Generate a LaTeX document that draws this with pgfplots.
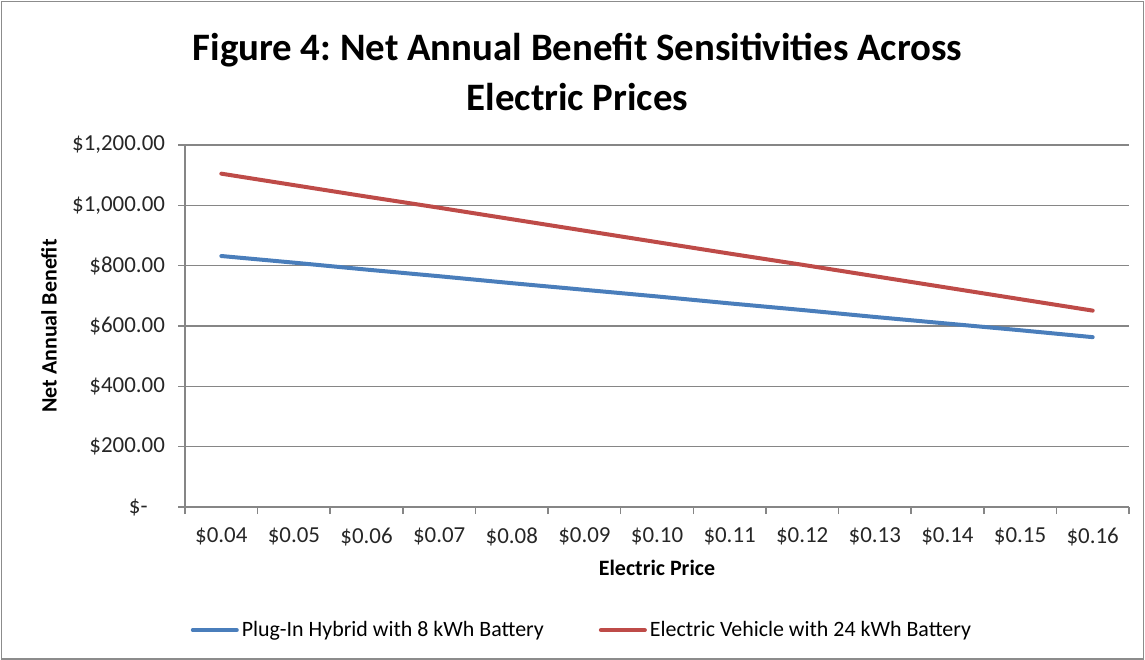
\documentclass[border=0pt]{standalone}
\usepackage{fontspec}
\setmainfont{Carlito}
\usepackage{pgfplots}
\pgfplotsset{compat=1.18}

\definecolor{phevblue}{HTML}{4A7EBB}
\definecolor{evred}{HTML}{BE4B48}
\definecolor{gridgray}{HTML}{868686}
\definecolor{framegray}{HTML}{8C8C8C}

\begin{document}
\frenchspacing
\begin{tikzpicture}
\useasboundingbox (0bp,0bp) rectangle (572.5bp,330bp);
\draw[framegray, line width=0.7bp] (0.6bp,0.6bp) rectangle (571.6bp,329.2bp);

\node[font=\bfseries\fontsize{19.5}{23}\selectfont, anchor=center] at (288.75bp,305bp)
  {Figure 4: Net Annual Benefit Sensitivities Across};
\node[font=\bfseries\fontsize{19.5}{23}\selectfont, anchor=center] at (288.75bp,281.5bp)
  {Electric Prices};

\begin{axis}[
  at={(92.5bp,76.5bp)}, anchor=south west,
  scale only axis, width=472bp, height=181bp,
  xmin=-0.5, xmax=12.5, ymin=0, ymax=1200,
  axis x line*=bottom, axis y line*=left,
  axis line style={draw=gridgray, line width=0.8bp, -},
  xtick={-0.5,0.5,...,12.5},
  x tick label as interval,
  xticklabels={\$0.04,\$0.05,\$0.06,\$0.07,\$0.08,\$0.09,\$0.10,\$0.11,\$0.12,\$0.13,\$0.14,\$0.15,\$0.16},
  ytick={0,200,...,1200},
  yticklabels={{\$-\phantom{0.}},{\$200.00},{\$400.00},{\$600.00},{\$800.00},{\$1,000.00},{\$1,200.00}},
  tick align=outside,
  major tick length=3.5bp,
  tick style={draw=gridgray, line width=0.8bp},
  ymajorgrids,
  grid style={draw=gridgray, line width=0.8bp},
  tick label style={font=\fontsize{11.5}{13}\selectfont, text=black!85},
  x tick label style={yshift=-3.5bp},
  y tick label style={xshift=-3bp},
  xlabel={Electric Price},
  ylabel={Net Annual Benefit},
  every axis x label/.style={at={(rel axis cs:0.5,0)}, yshift=-30.5bp, anchor=center,
    font=\bfseries\fontsize{11}{13}\selectfont},
  every axis y label/.style={at={(rel axis cs:0,0.5)}, xshift=-68bp, rotate=90, anchor=center,
    font=\bfseries\fontsize{11}{13}\selectfont},
  legend columns=2,
  legend style={at={(rel axis cs:0.421,-0.34)}, anchor=center, draw=none, fill=none,
    font=\fontsize{11}{13}\selectfont,
    nodes={inner xsep=1.5bp},
    /tikz/every even column/.append style={column sep=26bp}},
  legend image code/.code={\draw[#1] (0bp,0bp) -- (22bp,0bp);},
  every axis plot/.append style={line width=2bp, line cap=round},
]
% Plug-in hybrid, 8 kWh battery
\addplot[phevblue, mark=none] coordinates {
  (0,832) (1,810) (2,787) (3,765) (4,742) (5,720) (6,698)
  (7,675) (8,653) (9,630) (10,608) (11,586) (12,563)
};
\addlegendentry{Plug-In Hybrid with 8 kWh Battery}
% Electric vehicle, 24 kWh battery
\addplot[evred, mark=none] coordinates {
  (0,1105) (1,1067) (2,1029) (3,992) (4,954) (5,916) (6,878)
  (7,840) (8,803) (9,765) (10,727) (11,689) (12,651)
};
\addlegendentry{Electric Vehicle with 24 kWh Battery}
\end{axis}
\end{tikzpicture}
\end{document}
